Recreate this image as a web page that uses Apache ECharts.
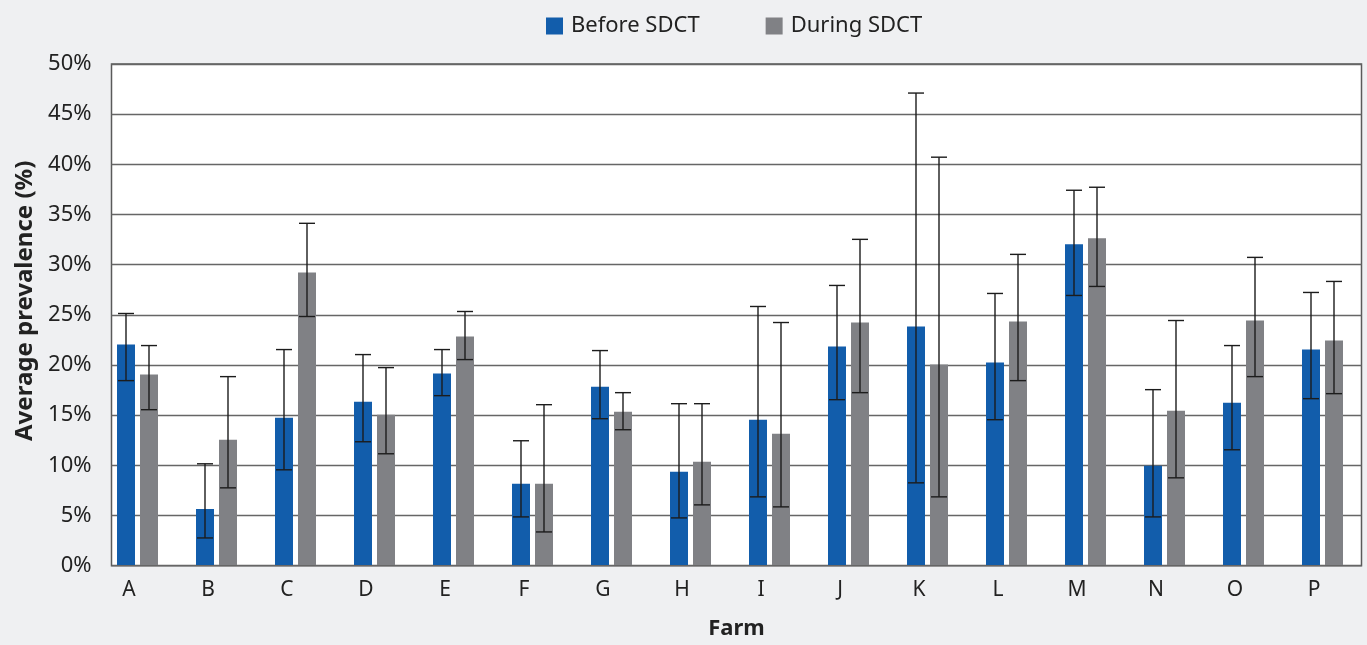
<!DOCTYPE html>
<html>
<head>
<meta charset="utf-8">
<script src="https://cdn.jsdelivr.net/npm/echarts@6/dist/echarts.min.js"></script>
<style>
html,body{margin:0;padding:0;background:#eff0f2;}
#chart{width:1367px;height:645px;}
</style>
</head>
<body>
<div id="chart"></div>
<script>
const categories = ['A','B','C','D','E','F','G','H','I','J','K','L','M','N','O','P'];
const beforeValues = [22.0, 5.6, 14.7, 16.3, 19.1, 8.1, 17.8, 9.3, 14.5, 21.8, 23.8, 20.2, 32.0, 9.9, 16.2, 21.5];
const beforeLow    = [18.4, 2.7,  9.5, 12.3, 16.9, 4.8, 14.6, 4.7,  6.8, 16.5,  8.2, 14.5, 26.9, 4.8, 11.5, 16.6];
const beforeHigh   = [25.1,10.1, 21.5, 21.0, 21.5,12.4, 21.4,16.1, 25.8, 27.9, 47.1, 27.1, 37.4,17.5, 21.9, 27.2];
const duringValues = [19.0,12.5, 29.2, 15.0, 22.8, 8.1, 15.3,10.3, 13.1, 24.2, 20.0, 24.3, 32.6,15.4, 24.4, 22.4];
const duringLow    = [15.5, 7.7, 24.8, 11.1, 20.5, 3.3, 13.5, 6.0,  5.8, 17.2,  6.8, 18.4, 27.8, 8.7, 18.8, 17.1];
const duringHigh   = [21.9,18.8, 34.1, 19.7, 25.3,16.0, 17.2,16.1, 24.2, 32.5, 40.7, 31.0, 37.7,24.4, 30.7, 28.3];
const seriesNames = ['Before SDCT', 'During SDCT'];
const yAxisTitle = 'Average prevalence (%)';
const xAxisTitle = 'Farm';

const BLUE = '#125dab';
const GRAY = '#808185';
const BAR_W = 18;
const BAR_GAP = 5;
const FONT = '"Noto Sans", "Open Sans", sans-serif';

function errRender(offsetSign) {
  return function (params, api) {
    const idx = api.value(0);
    const lo = api.coord([idx, api.value(1)]);
    const hi = api.coord([idx, api.value(2)]);
    const cx = lo[0] + offsetSign * (BAR_W / 2 + BAR_GAP / 2);
    const cap = 8;
    const style = { stroke: '#1c1c1c', lineWidth: 1.4 };
    return {
      type: 'group',
      children: [
        { type: 'line', shape: { x1: cx, y1: lo[1], x2: cx, y2: hi[1] }, style },
        { type: 'line', shape: { x1: cx - cap, y1: hi[1], x2: cx + cap, y2: hi[1] }, style },
        { type: 'line', shape: { x1: cx - cap, y1: lo[1], x2: cx + cap, y2: lo[1] }, style }
      ]
    };
  };
}

const chart = echarts.init(document.getElementById('chart'));
chart.setOption({
  backgroundColor: '#eff0f2',
  animation: false,
  textStyle: { fontFamily: FONT },
  legend: {
    data: seriesNames,
    left: 541,
    top: 10,
    icon: 'rect',
    itemWidth: 17,
    itemHeight: 17,
    itemGap: 66,
    textStyle: { fontSize: 22, color: '#222', fontFamily: FONT, padding: [0, 0, 0, 3] }
  },
  grid: [
    { left: 111.5, right: 5.5, top: 64, bottom: 79.3, show: true, backgroundColor: '#ffffff', borderColor: '#5a5a5a', borderWidth: 1.5 },
    { left: 98, right: 5, top: 64, bottom: 79.3 }
  ],
  xAxis: [
    { gridIndex: 0, type: 'value', show: false, min: 0, max: 1 },
    {
      gridIndex: 1, type: 'category', data: categories,
      axisLine: { show: false }, axisTick: { show: false },
      axisLabel: { fontSize: 21, color: '#222', margin: 15, padding: [0, 17, 0, 0], fontFamily: FONT },
      name: xAxisTitle, nameLocation: 'middle', nameGap: 53,
      nameTextStyle: { fontSize: 22, fontWeight: 'bold', color: '#222', fontFamily: FONT, padding: [0, 0, 0, 13] }
    }
  ],
  yAxis: [
    {
      gridIndex: 0, type: 'value', min: 0, max: 50, interval: 5,
      axisLine: { show: false }, axisTick: { show: false },
      axisLabel: { formatter: '{value}%', fontSize: 22, color: '#222', margin: 20, fontFamily: FONT },
      splitLine: { show: true, lineStyle: { color: '#666', width: 1.3 } },
      name: yAxisTitle, nameLocation: 'middle', nameGap: 74,
      nameTextStyle: { fontSize: 24, fontWeight: 'bold', color: '#222', fontFamily: FONT, padding: [0, 0, 0, 28] }
    },
    { gridIndex: 1, type: 'value', min: 0, max: 50, show: false, splitLine: { show: false } }
  ],
  series: [
    {
      name: seriesNames[0], type: 'bar', xAxisIndex: 1, yAxisIndex: 1,
      data: beforeValues, barWidth: BAR_W, barGap: (BAR_GAP / BAR_W * 100) + '%',
      itemStyle: { color: BLUE }
    },
    {
      name: seriesNames[1], type: 'bar', xAxisIndex: 1, yAxisIndex: 1,
      data: duringValues, barWidth: BAR_W,
      itemStyle: { color: GRAY }
    },
    {
      type: 'custom', xAxisIndex: 1, yAxisIndex: 1, z: 5,
      renderItem: errRender(-1),
      data: categories.map((c, i) => [i, beforeLow[i], beforeHigh[i]])
    },
    {
      type: 'custom', xAxisIndex: 1, yAxisIndex: 1, z: 5,
      renderItem: errRender(1),
      data: categories.map((c, i) => [i, duringLow[i], duringHigh[i]])
    }
  ]
});
</script>
</body>
</html>
